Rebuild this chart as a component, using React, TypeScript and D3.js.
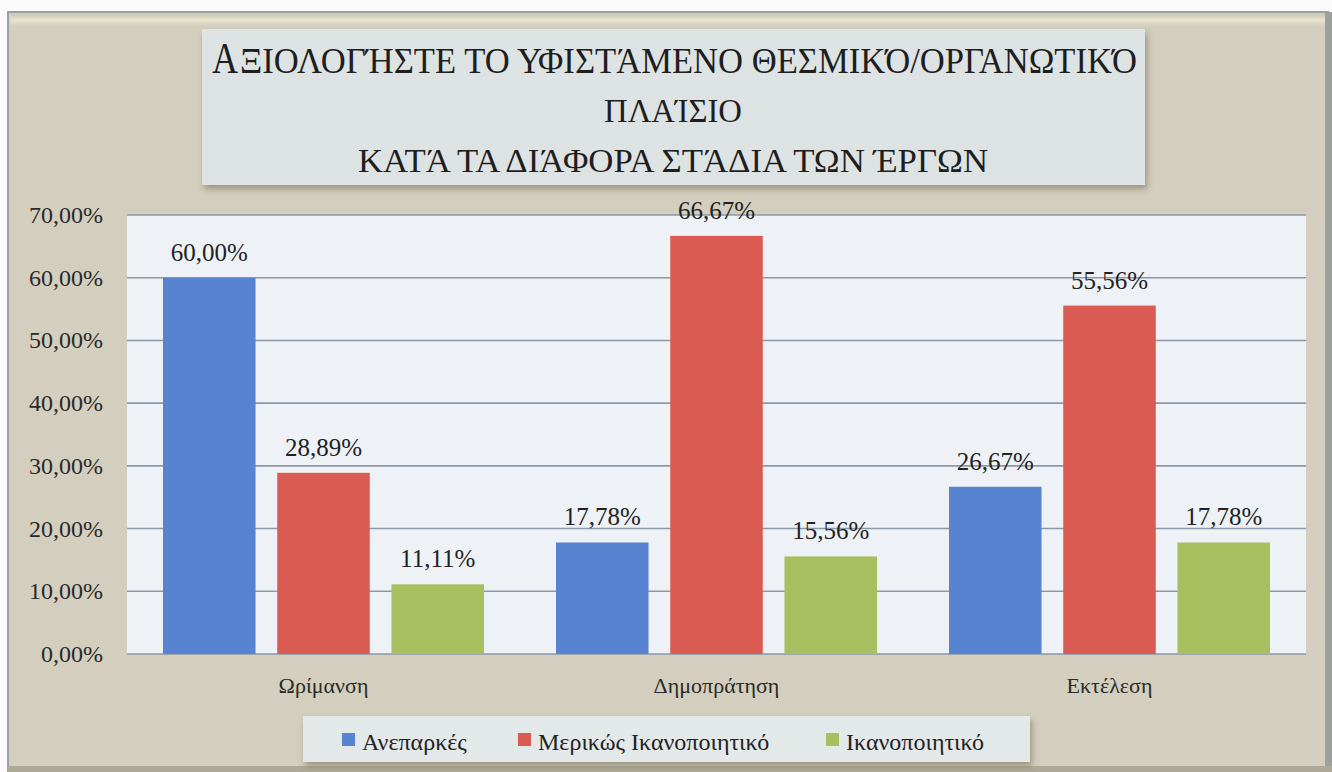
import * as d3 from "d3";

const CATEGORIES = ["Ωρίμανση", "Δημοπράτηση", "Εκτέλεση"];
const SERIES = ["Ανεπαρκές", "Μερικώς Ικανοποιητικό", "Ικανοποιητικό"];
const ANEPARKES = [60.0, 17.78, 26.67];
const MERIKOS = [28.89, 66.67, 55.56];
const IKANOPOIITIKO = [11.11, 15.56, 17.78];
const Y_TICKS = [0, 10, 20, 30, 40, 50, 60, 70];
const TITLE_LINES = [
  "ΑΞΙΟΛΟΓΉΣΤΕ ΤΟ ΥΦΙΣΤΆΜΕΝΟ ΘΕΣΜΙΚΌ/ΟΡΓΑΝΩΤΙΚΌ",
  "ΠΛΑΊΣΙΟ",
  "ΚΑΤΆ ΤΑ ΔΙΆΦΟΡΑ ΣΤΆΔΙΑ ΤΩΝ ΈΡΓΩΝ",
];

const COLORS = ["#5783d1", "#da5b51", "#a7bf5f"];

const WIDTH = 1332;
const HEIGHT = 772;
const PLOT = { left: 127, right: 1306, top: 215, bottom: 654 };
const FONT = "Liberation Serif";
// legend square x positions (text follows 20px later)
const LEGEND_X = [342, 518, 826];

const locale = d3.formatLocale({
  decimal: ",",
  thousands: ".",
  grouping: [3],
  currency: ["", "€"],
});
const pct = (v: number) => locale.format(".2f")(v) + "%";

export default function App() {
  const y = d3.scaleLinear().domain([0, 70]).range([PLOT.bottom, PLOT.top]);
  const x0 = d3.scaleBand().domain(CATEGORIES).range([PLOT.left, PLOT.right]).padding(0);
  const x1 = d3.scaleBand().domain(SERIES)
    .range([36, x0.bandwidth() - 36]).paddingInner(0.19).paddingOuter(0);

  const seriesValues = [ANEPARKES, MERIKOS, IKANOPOIITIKO];
  const rows = CATEGORIES.flatMap((c, ci) =>
    SERIES.map((s, si) => ({ c, s, si, v: seriesValues[si][ci] }))
  );
  const barX = (c: string, s: string) => (x0(c) ?? 0) + (x1(s) ?? 0);

  return (
    <svg width={WIDTH} height={HEIGHT} style={{ position: "absolute", left: 0, top: 0 }}>
      <defs>
        <filter id="shadow" x="-5%" y="-10%" width="112%" height="130%">
          <feDropShadow dx={2} dy={4} stdDeviation={3} floodColor="#6b6650" floodOpacity={0.55} />
        </filter>
        <linearGradient id="bevel" x1={0} y1={0} x2={0} y2={1}>
          <stop offset="0%" stopColor="#c9c6b2" />
          <stop offset="50%" stopColor="#e8e4d0" />
          <stop offset="100%" stopColor="#d3cebd" />
        </linearGradient>
      </defs>

      {/* page + frame */}
      <rect width={WIDTH} height={HEIGHT} fill="#fbfbfb" />
      <rect x={8} y={12} width={1320} height={760} fill="#d3cebd" stroke="#97a0a4" strokeWidth={2} />
      <rect x={10} y={14} width={1316} height={12} fill="url(#bevel)" />
      <rect x={1325} y={12} width={7} height={760} fill="#9c9f9c" />
      <rect x={8} y={766} width={1324} height={6} fill="#aeaa98" />

      {/* title */}
      <rect x={202} y={29} width={943} height={156} fill="#dde3e2" filter="url(#shadow)" />
      <text x={212} y={73} fontFamily={FONT} fontSize={44} fill="#1e1e1e"
        textLength={26} lengthAdjust="spacingAndGlyphs">
        {TITLE_LINES[0].slice(0, 1)}
      </text>
      <text x={240} y={73} fontFamily={FONT} fontSize={35} fill="#1e1e1e"
        textLength={897} lengthAdjust="spacingAndGlyphs">
        {TITLE_LINES[0].slice(1)}
      </text>
      <text x={604} y={122} fontFamily={FONT} fontSize={33} fill="#1e1e1e"
        textLength={138} lengthAdjust="spacingAndGlyphs">
        {TITLE_LINES[1]}
      </text>
      <text x={358} y={172} fontFamily={FONT} fontSize={33} fill="#1e1e1e"
        textLength={630} lengthAdjust="spacingAndGlyphs">
        {TITLE_LINES[2]}
      </text>

      {/* plot area */}
      <rect x={PLOT.left} y={PLOT.top} width={PLOT.right - PLOT.left}
        height={PLOT.bottom - PLOT.top} fill="#eef2f6" />
      {Y_TICKS.map((t) => (
        <line key={t} x1={PLOT.left} x2={PLOT.right} y1={y(t)} y2={y(t)}
          stroke="#8c99a8" strokeWidth={1.6} />
      ))}
      {Y_TICKS.map((t) => (
        <text key={t} x={103} y={y(t) + 8} textAnchor="end" fontFamily={FONT}
          fontSize={24} fill="#2a2a2a">
          {pct(t)}
        </text>
      ))}

      {rows.map((d) => (
        <rect key={d.c + d.s} x={barX(d.c, d.s)} y={y(d.v)} width={x1.bandwidth()}
          height={PLOT.bottom - y(d.v)} fill={COLORS[d.si]} />
      ))}
      {rows.map((d) => (
        <text key={d.c + d.s} x={barX(d.c, d.s) + x1.bandwidth() / 2} y={y(d.v) - 17}
          textAnchor="middle" fontFamily={FONT} fontSize={25} fill="#222">
          {pct(d.v)}
        </text>
      ))}

      {CATEGORIES.map((c) => (
        <text key={c} x={(x0(c) ?? 0) + x0.bandwidth() / 2} y={693} textAnchor="middle"
          fontFamily={FONT} fontSize={22} fill="#2a2a2a">
          {c}
        </text>
      ))}

      {/* legend */}
      <rect x={303} y={716} width={727} height={46} fill="#e3e8e8" filter="url(#shadow)" />
      {SERIES.map((s, i) => (
        <g key={s}>
          <rect x={LEGEND_X[i]} y={733} width={13} height={13} fill={COLORS[i]} />
          <text x={LEGEND_X[i] + 20} y={750} fontFamily={FONT} fontSize={24} fill="#222">{s}</text>
        </g>
      ))}
    </svg>
  );
}
